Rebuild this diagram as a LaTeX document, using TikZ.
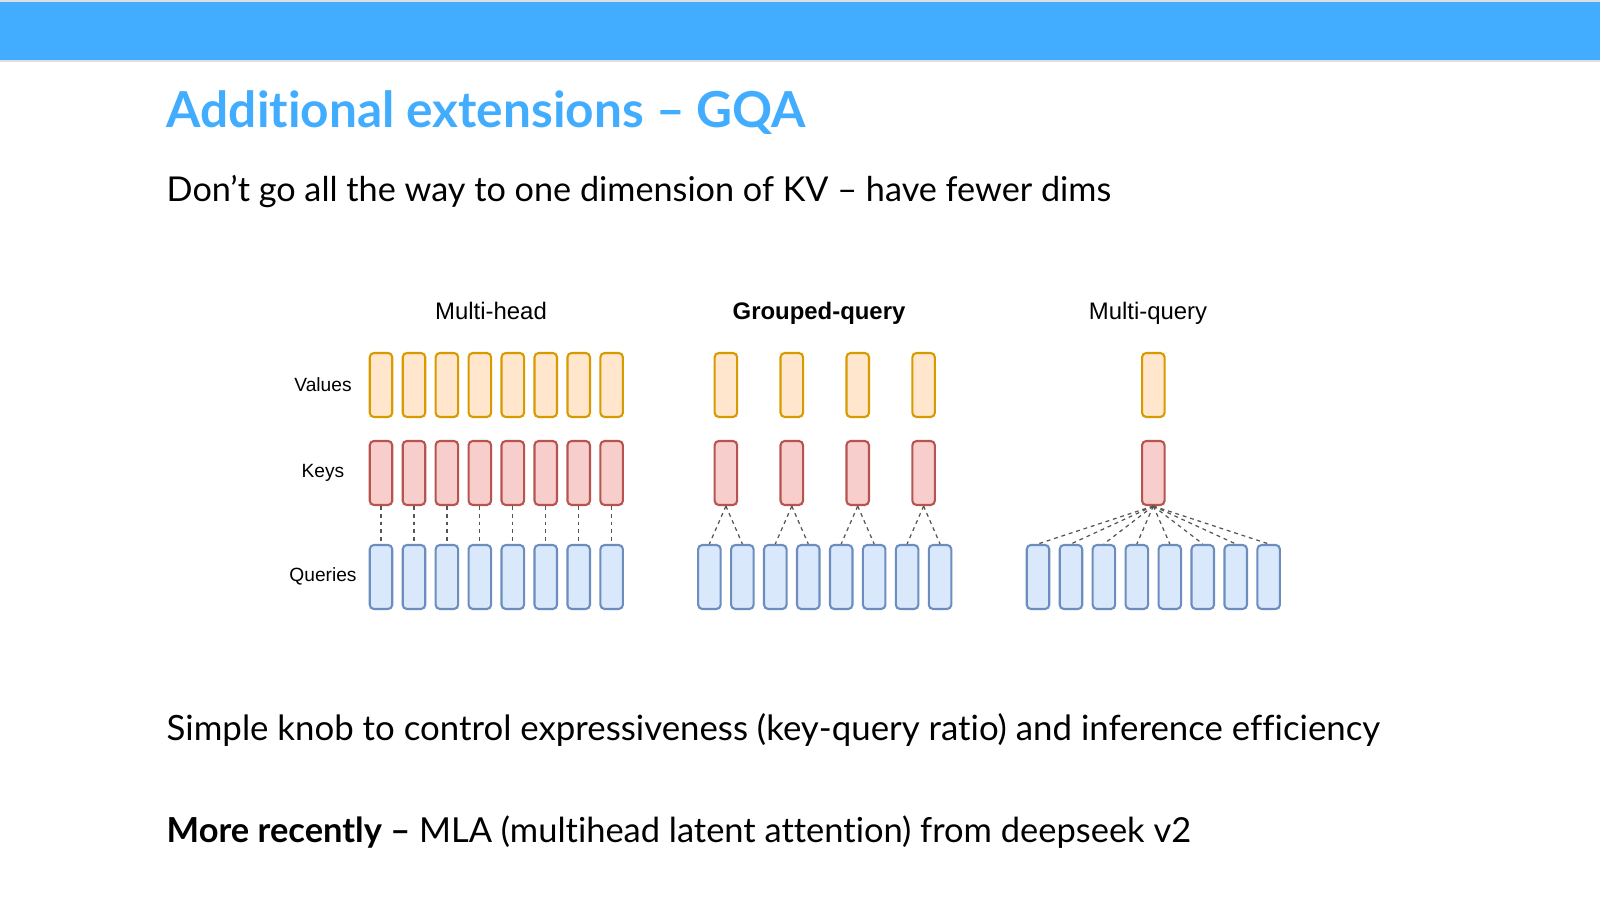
\documentclass[tikz,border=0pt]{standalone}
\usepackage{fontspec}
\setmainfont{Lato}[Ligatures=NoCommon]
\newfontfamily\arialfont{Liberation Sans}
\usetikzlibrary{arrows, arrows.meta}
\usetikzlibrary{shapes}
\usetikzlibrary{scopes}
\definecolor{barblue}{HTML}{42ADFF}
\definecolor{valfill}{HTML}{FFE6CC}
\definecolor{valdraw}{HTML}{D79B00}
\definecolor{keyfill}{HTML}{F8CECC}
\definecolor{keydraw}{HTML}{B85450}
\definecolor{qryfill}{HTML}{DAE8FC}
\definecolor{qrydraw}{HTML}{6C8EBF}
\definecolor{linkgray}{HTML}{555555}
\tikzset{
  headbox/.style={rectangle, rounded corners=1.2pt, line width=0.6pt, minimum width=0.225cm, minimum height=0.64cm, inner sep=0pt},
  valbox/.style={headbox, draw=valdraw, fill=valfill},
  keybox/.style={headbox, draw=keydraw, fill=keyfill},
  qrybox/.style={headbox, draw=qrydraw, fill=qryfill},
  link/.style={draw=linkgray, dash pattern=on 1.1pt off 1.1pt, line width=0.35pt},
  slidetext/.style={anchor=base west, inner sep=0pt, font=\fontsize{9.8}{11}\selectfont},
  grouptitle/.style={anchor=base, font=\arialfont\fontsize{6.8}{8}\selectfont, inner sep=0pt},
  rowlabel/.style={font=\arialfont\fontsize{5.45}{7}\selectfont, inner sep=0pt}
}
\begin{document}
\begin{tikzpicture}[>=latex, x=0.01cm, y=-0.01cm]
\useasboundingbox (0,0) rectangle (1600,901);
% header bar
\fill[gray!25] (0,0) rectangle (1600,62);
\fill[barblue] (0,2) rectangle (1600,60);
\node[slidetext, font=\fontsize{14.1}{16}\selectfont\bfseries, text=barblue] (title) at (166,128) {Additional extensions -- GQA};
\node[slidetext, font=\fontsize{9.73}{11}\selectfont] (subtitle) at (166,202) {Don’t go all the way to one dimension of KV -- have fewer dims};
% column titles and row labels
\node[grouptitle] (mhtitle) at (491,320) {Multi-head};
\node[grouptitle, font=\arialfont\bfseries\fontsize{6.8}{8}\selectfont] (gqtitle) at (819,320) {Grouped-query};
\node[grouptitle] (mqtitle) at (1148,320) {Multi-query};
\node[rowlabel] (vlabel) at (323,385) {Values};
\node[rowlabel] (klabel) at (323,473) {Keys};
\node[rowlabel] (qlabel) at (323,576) {Queries};
% multi-head
\foreach \i in {1,...,8} {
  \node[valbox] (mhv\i) at ({381+32.95*(\i-1)},385) {};
  \node[keybox] (mhk\i) at ({381+32.95*(\i-1)},473) {};
  \node[qrybox] (mhq\i) at ({381+32.95*(\i-1)},577) {};
  \draw[link] (mhk\i.south) -- (mhq\i.north);
}
% grouped-query
\foreach \i in {1,...,8}
  \node[qrybox] (gqq\i) at ({709.4+32.95*(\i-1)},577) {};
\foreach \j [evaluate=\j as \a using int(2*\j-1), evaluate=\j as \b using int(2*\j)] in {1,...,4} {
  \node[valbox] (gqv\j) at ({725.9+65.9*(\j-1)},385) {};
  \node[keybox] (gqk\j) at ({725.9+65.9*(\j-1)},473) {};
  \draw[link] (gqk\j.south) -- (gqq\a.north);
  \draw[link] (gqk\j.south) -- (gqq\b.north);
}
% multi-query
\node[valbox] (mqv) at (1153.3,385) {};
\node[keybox] (mqk) at (1153.3,473) {};
\foreach \i in {1,...,8} {
  \node[qrybox] (mqq\i) at ({1038+32.95*(\i-1)},577) {};
  \draw[link] (mqk.south) -- (mqq\i.north);
}
% bottom lines
\node[slidetext, font=\fontsize{9.9}{11}\selectfont] (knob) at (166,741) {Simple knob to control expressiveness (key-query ratio) and inference efficiency};
\node[slidetext] (recent) at (166,843) {\textbf{More recently --} MLA (multihead latent attention) from deepseek v2};
\end{tikzpicture}
\end{document}
